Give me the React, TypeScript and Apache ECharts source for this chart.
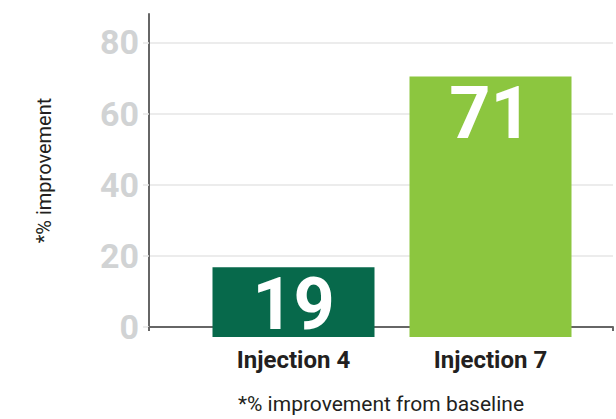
import React, { useEffect, useRef } from 'react';
import * as echarts from 'echarts';

const categories = ['Injection 4', 'Injection 7'];
const values = [19, 71];
const barColors = ['#07694b', '#8cc63f'];
const yTickValues = [0, 20, 40, 60, 80];
const yAxisTitle = '*% improvement';
const xAxisTitle = '*% improvement from baseline';

export default function App() {
  const ref = useRef<HTMLDivElement>(null);
  useEffect(() => {
    const chart = echarts.init(ref.current!, null, { renderer: 'svg' });
    const Y_MIN = 0;
    const Y_MAX = 88;
    const gridColors = yTickValues.map(() => '#e6e6e6').concat(['transparent']);
    chart.setOption({
      animation: false,
      backgroundColor: '#ffffff',
      grid: [
        { left: 149, right: 3, top: 14, bottom: 82 },
        { left: 195, right: 27, top: 14, bottom: 82 },
      ],
      xAxis: [
        {
          gridIndex: 0,
          type: 'category',
          data: [''],
          axisLine: { show: true, lineStyle: { color: '#666666', width: 2 } },
          axisTick: { show: true, length: 4, lineStyle: { color: '#666666', width: 2 } },
          axisLabel: { show: false },
          splitLine: { show: false },
          name: xAxisTitle,
          nameLocation: 'middle',
          nameGap: 66,
          nameTextStyle: { fontFamily: 'Roboto', fontSize: 21, color: '#231f20' },
        },
        {
          gridIndex: 1,
          type: 'category',
          data: categories,
          axisLine: { show: false },
          axisTick: { show: false },
          axisLabel: {
            fontFamily: 'Roboto',
            fontWeight: 'bold',
            fontSize: 24,
            color: '#231f20',
            margin: 11,
          },
        },
      ],
      yAxis: [
        {
          gridIndex: 0,
          type: 'value',
          min: Y_MIN,
          max: Y_MAX,
          interval: 20,
          axisLine: { show: true, lineStyle: { color: '#666666', width: 2 } },
          axisTick: {
            show: true,
            length: 6,
            customValues: yTickValues,
            lineStyle: { color: '#e6e6e6', width: 1.5 },
          },
          axisLabel: {
            customValues: yTickValues,
            fontFamily: 'Roboto',
            fontWeight: 'bold',
            fontSize: 34,
            color: '#d1d3d4',
            margin: 10,
          },
          splitLine: { show: true, lineStyle: { color: gridColors, width: 1.5 } },
          name: yAxisTitle,
          nameLocation: 'middle',
          nameGap: 95,
          nameTextStyle: { fontFamily: 'Roboto', fontSize: 20, color: '#231f20' },
        },
        {
          gridIndex: 1,
          type: 'value',
          min: Y_MIN,
          max: Y_MAX,
          show: false,
          splitLine: { show: false },
        },
      ],
      series: [
        {
          type: 'bar',
          xAxisIndex: 1,
          yAxisIndex: 1,
          barWidth: 162,
          data: values.map((v, i) => ({ value: v, itemStyle: { color: barColors[i] } })),
          label: {
            show: true,
            position: 'insideTop',
            distance: 7,
            color: '#ffffff',
            fontFamily: 'Roboto',
            fontWeight: 'bold',
            fontSize: 72,
            lineHeight: 60,
          },
        },
      ],
    });
    return () => chart.dispose();
  }, []);
  return (
    <div
      ref={ref}
      style={{ position: 'fixed', left: 0, top: 0, width: 616, height: 419 }}
    />
  );
}
